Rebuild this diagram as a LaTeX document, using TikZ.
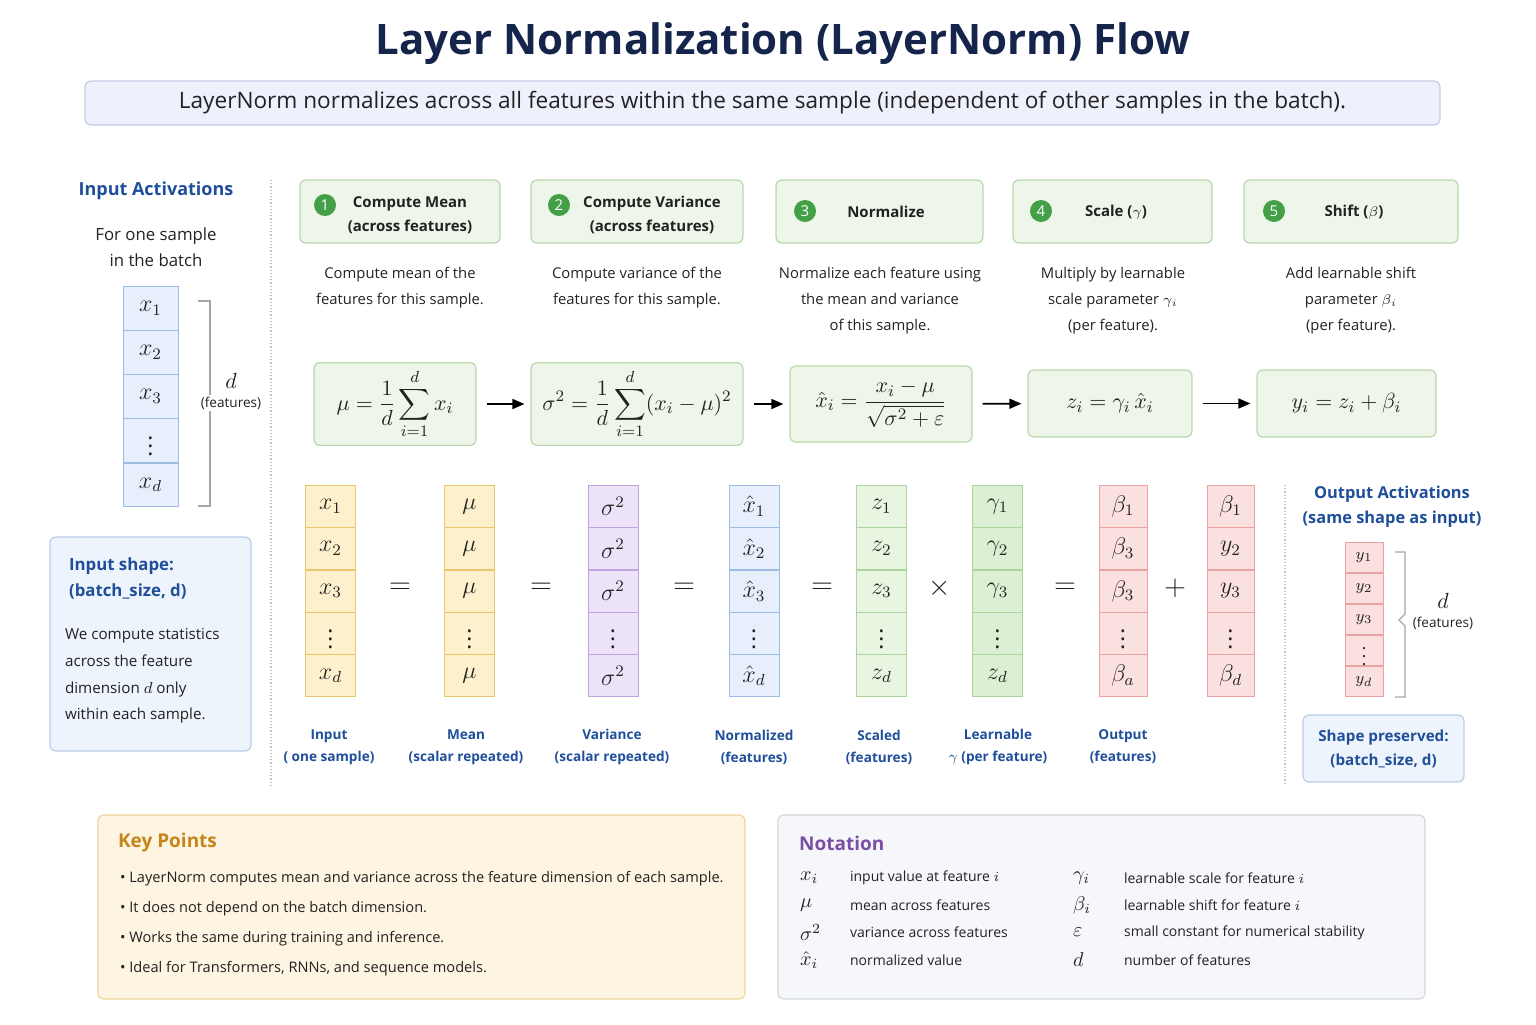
\documentclass[tikz,border=0pt]{standalone}
\usepackage{amsmath}
\usepackage{amssymb}
\usepackage[no-math]{fontspec}
\setmainfont{Open Sans}
\usepackage{xcolor}
\usepackage{tikz}
\usetikzlibrary{arrows.meta,positioning}

\definecolor{titlenavy}{HTML}{14244B}
\definecolor{headblue}{HTML}{1F4E9A}
\definecolor{txt}{HTML}{222222}
\definecolor{subfill}{HTML}{EEF0FB}
\definecolor{subline}{HTML}{C6CBEA}
\definecolor{stepfill}{HTML}{EEF6EA}
\definecolor{stepline}{HTML}{B8D7AC}
\definecolor{stepgreen}{HTML}{43A047}
\definecolor{bluefill}{HTML}{E6EFFB}
\definecolor{blueline}{HTML}{9DBCE3}
\definecolor{yelfill}{HTML}{FDF0CC}
\definecolor{yelline}{HTML}{E9C66E}
\definecolor{purfill}{HTML}{EDE3F8}
\definecolor{purline}{HTML}{BFA5E0}
\definecolor{grnfill}{HTML}{E8F5E1}
\definecolor{grnline}{HTML}{ABD39C}
\definecolor{grndark}{HTML}{DCEFD2}
\definecolor{redfill}{HTML}{FBE0E0}
\definecolor{redline}{HTML}{E9A3A3}
\definecolor{infofill}{HTML}{EEF4FC}
\definecolor{infoline}{HTML}{B9CDE9}
\definecolor{keyfill}{HTML}{FDF4E2}
\definecolor{keyline}{HTML}{F0D59B}
\definecolor{keyhead}{HTML}{C4861B}
\definecolor{notefill}{HTML}{F6F7FB}
\definecolor{noteline}{HTML}{D3D6DE}
\definecolor{notehead}{HTML}{7B4FA6}

% one column of feature cells: name, x, top y, cell height, style, entries
\newcommand{\featcol}[6]{%
  \foreach \e [count=\k] in {#6}
    \node[#5] (#1\k) at (#2, {#3+(\k-0.5)*#4}) {$\e$};
}

\begin{document}
\begin{tikzpicture}[x=0.5pt, y=-0.5pt,
    every node/.style={text=txt},
    panel/.style={rectangle, rounded corners=3pt, line width=0.6pt},
    stepbox/.style={panel, draw=stepline, fill=stepfill},
    stepnum/.style={circle, fill=stepgreen, inner sep=0pt, minimum size=11pt,
      text=white, font=\fontsize{7.5}{8}\selectfont},
    steptext/.style={align=center, font=\bfseries\fontsize{7.5}{12}\selectfont},
    desc/.style={align=center, font=\fontsize{7.4}{13}\selectfont},
    formula/.style={stepbox, font=\fontsize{11}{12}\selectfont},
    flow/.style={-{Triangle[length=6pt,width=5pt]}, line width=0.8pt, black,
      shorten <=5pt, shorten >=3pt},
    cell/.style={rectangle, inner sep=0pt, minimum width=25pt, minimum height=21pt,
      line width=0.5pt, font=\fontsize{11.5}{12}\selectfont},
    bluecell/.style={cell, fill=bluefill, draw=blueline},
    yelcell/.style={cell, fill=yelfill, draw=yelline},
    purcell/.style={cell, fill=purfill, draw=purline},
    grncell/.style={cell, fill=grnfill, draw=grnline},
    gamcell/.style={cell, fill=grndark, draw=grnline},
    redcell/.style={cell, fill=redfill, draw=redline},
    op/.style={font=\fontsize{14}{14}\selectfont},
    collab/.style={align=center, text=headblue, font=\bfseries\fontsize{6.8}{11}\selectfont},
    headlab/.style={align=center, text=headblue, font=\bfseries\fontsize{8.2}{12.5}\selectfont},
    bracket/.style={draw=gray!70, line width=0.6pt},
    sep/.style={draw=gray!45, densely dotted, line width=0.6pt}]

  \useasboundingbox (0,0) rectangle (1536,1024);

  % Title and subtitle
  \node[text=titlenavy, font=\bfseries\fontsize{21}{24}\selectfont] (title) at (783,44)
    {Layer Normalization (LayerNorm) Flow};
  \node[panel, draw=subline, fill=subfill, minimum width=677.5pt, minimum height=22pt,
    font=\fontsize{11.3}{12}\selectfont] (subtitle) at (762.5,103)
    {LayerNorm normalizes across all features within the same sample (independent of other samples in the batch).};

  % Input activations (left panel)
  \node[headlab, font=\bfseries\fontsize{9}{12.5}\selectfont] (inhead) at (156,191) {Input Activations};
  \node[align=center, font=\fontsize{8.4}{13}\selectfont] (insample) at (156,247)
    {For one sample\\in the batch};
  \featcol{in}{150.5}{286}{44.2}{bluecell, minimum width=27.5pt, minimum height=21.9pt}
    {x_1, x_2, x_3, \vdots, x_d}
  \draw[bracket] (198,301) -- (210,301) -- (210,506) -- (198,506);
  \node[font=\fontsize{11}{12}\selectfont] (ind) at (231,381) {$d$};
  \node[fill=white, inner sep=1pt, font=\fontsize{6.8}{8}\selectfont] (infeat) at (231,403) {(features)};

  \node[panel, draw=infoline, fill=infofill, minimum width=100.5pt, minimum height=107pt] (inshape) at (150.5,644) {};
  \node[anchor=west, align=left, text=headblue, font=\bfseries\fontsize{8.4}{13}\selectfont] (inshapehead)
    at (62,578) {Input shape:\\(batch\_size, d)};
  \node[anchor=west, align=left, font=\fontsize{7.6}{13.4}\selectfont] (inshapetext)
    at (58,676) {We compute statistics\\across the feature\\dimension $d$ only\\within each sample.};

  % Separators
  \draw[sep] (271,180) -- (271,785);
  \draw[sep] (1285,485) -- (1285,785);

  % Step headers
  \node[stepbox, minimum width=100pt, minimum height=31.5pt] (s1) at (400,211.5) {};
  \node[stepbox, minimum width=106pt, minimum height=31.5pt] (s2) at (637,211.5) {};
  \node[stepbox, minimum width=103.5pt, minimum height=31.5pt] (s3) at (879.5,211.5) {};
  \node[stepbox, minimum width=99.5pt, minimum height=31.5pt] (s4) at (1112.5,211.5) {};
  \node[stepbox, minimum width=107pt, minimum height=31.5pt] (s5) at (1351,211.5) {};
  \node[stepnum] (n1) at (325,205) {1};
  \node[stepnum] (n2) at (559,205) {2};
  \node[stepnum] (n3) at (805,211) {3};
  \node[stepnum] (n4) at (1041,211) {4};
  \node[stepnum] (n5) at (1274,211) {5};
  \node[steptext] (t1) at (410,215) {Compute Mean\\(across features)};
  \node[steptext] (t2) at (652,215) {Compute Variance\\(across features)};
  \node[steptext] (t3) at (886,212) {Normalize};
  \node[steptext] (t4) at (1116,212) {Scale ($\gamma$)};
  \node[steptext] (t5) at (1354,212) {Shift ($\beta$)};

  % Step descriptions
  \node[desc] (d1) at (400,288) {Compute mean of the\\features for this sample.};
  \node[desc] (d2) at (637,288) {Compute variance of the\\features for this sample.};
  \node[desc] (d3) at (880,301) {Normalize each feature using\\the mean and variance\\of this sample.};
  \node[desc] (d4) at (1113,301) {Multiply by learnable\\scale parameter $\gamma_i$\\(per feature).};
  \node[desc] (d5) at (1351,301) {Add learnable shift\\parameter $\beta_i$\\(per feature).};

  % Formulas
  \node[formula, minimum width=81pt, minimum height=38pt] (f1) at (395,404)
    {$\displaystyle \mu=\frac{1}{d}\sum_{i=1}^{d}x_i$};
  \node[formula, minimum width=106pt, minimum height=38pt] (f2) at (637,404)
    {$\displaystyle \sigma^2=\frac{1}{d}\sum_{i=1}^{d}(x_i-\mu)^2$};
  \node[formula, minimum width=91pt, minimum height=38pt] (f3) at (881,404)
    {$\displaystyle \hat{x}_i=\frac{x_i-\mu}{\sqrt{\sigma^2+\varepsilon}}$};
  \node[formula, minimum width=82pt, minimum height=33.5pt] (f4) at (1110,403.5)
    {$z_i=\gamma_i\,\hat{x}_i$};
  \node[formula, minimum width=89.5pt, minimum height=33.5pt] (f5) at (1346.5,403.5)
    {$y_i=z_i+\beta_i$};
  \draw[flow] (f1) -- (f2);
  \draw[flow] (f2) -- (f3);
  \draw[flow] (f3) -- (f4);
  \draw[flow] (f4) -- (f5);

  % Feature columns
  \featcol{xin}{330.5}{485}{42.4}{yelcell}{x_1, x_2, x_3, \vdots, x_d}
  \featcol{mu}{469.5}{485}{42.4}{yelcell}{\mu, \mu, \mu, \vdots, \mu}
  \featcol{var}{613}{485}{42.4}{purcell}{\sigma^2, \sigma^2, \sigma^2, \vdots, \sigma^2}
  \featcol{xh}{754}{485}{42.4}{bluecell}{\hat{x}_1, \hat{x}_2, \hat{x}_3, \vdots, \hat{x}_d}
  \featcol{z}{881.5}{485}{42.4}{grncell}{z_1, z_2, z_3, \vdots, z_d}
  \featcol{gam}{997.5}{485}{42.4}{gamcell}{\gamma_1, \gamma_2, \gamma_3, \vdots, z_d}
  \featcol{out}{1123}{485}{42.4}{redcell, minimum width=24pt}{\beta_1, \beta_3, \beta_3, \vdots, \beta_a}
  \featcol{bet}{1230.5}{485}{42.4}{redcell, minimum width=23.5pt}{\beta_1, y_2, y_3, \vdots, \beta_d}

  % Operators between columns
  \node[op] (o1) at (400,588) {$=$};
  \node[op] (o2) at (541,588) {$=$};
  \node[op] (o3) at (684,588) {$=$};
  \node[op] (o4) at (822,588) {$=$};
  \node[op] (o5) at (940,588) {$\times$};
  \node[op] (o6) at (1065,588) {$=$};
  \node[op] (o7) at (1175,588) {$+$};

  % Column labels
  \node[collab] (l1) at (329,747) {Input\\( one sample)};
  \node[collab] (l2) at (466,747) {Mean\\(scalar repeated)};
  \node[collab] (l3) at (612,747) {Variance\\(scalar repeated)};
  \node[collab] (l4) at (754,747) {Normalized\\(features)};
  \node[collab] (l5) at (879,747) {Scaled\\(features)};
  \node[collab] (l6) at (998,747) {Learnable\\$\gamma$ (per feature)};
  \node[collab] (l7) at (1123,747) {Output\\(features)};

  % Output activations (right panel)
  \node[headlab] (outhead) at (1392,507) {Output Activations\\(same shape as input)};
  \featcol{y}{1364}{542}{31}{redcell, minimum width=19pt, minimum height=15.3pt,
    font=\fontsize{8.5}{9}\selectfont}{y_1, y_2, y_3, \vdots, y_d}
  \draw[bracket] (1395,552) -- (1405,552) -- (1405,614) -- (1399,620) -- (1405,626)
    -- (1405,697) -- (1395,697);
  \node[font=\fontsize{11}{12}\selectfont] (outd) at (1443,601) {$d$};
  \node[font=\fontsize{6.8}{8}\selectfont] (outfeat) at (1443,623) {(features)};
  \node[panel, draw=infoline, fill=infofill, minimum width=80.5pt, minimum height=33.5pt,
    align=center, text=headblue, font=\bfseries\fontsize{7.6}{12}\selectfont] (shape)
    at (1383.5,748.5) {Shape preserved:\\(batch\_size, d)};

  % Key points
  \node[panel, draw=keyline, fill=keyfill, minimum width=323.5pt, minimum height=92pt] (keys) at (421.5,907) {};
  \node[anchor=west, text=keyhead, font=\bfseries\fontsize{9.5}{11}\selectfont] (keyhead) at (111,843) {Key Points};
  \node[anchor=west, align=left, font=\fontsize{7.3}{14.9}\selectfont] (keytext) at (113,923.5)
    {\textbullet\ LayerNorm computes mean and variance across the feature dimension of each sample.\\
     \textbullet\ It does not depend on the batch dimension.\\
     \textbullet\ Works the same during training and inference.\\
     \textbullet\ Ideal for Transformers, RNNs, and sequence models.};

  % Notation
  \node[panel, draw=noteline, fill=notefill, minimum width=323.5pt, minimum height=92pt] (notes) at (1101.5,907) {};
  \node[anchor=west, text=notehead, font=\bfseries\fontsize{9.5}{11}\selectfont] (notehead) at (792,843) {Notation};
  \foreach \s/\t [count=\k] in {x_i/{input value at feature $i$}, \mu/{mean across features},
      \sigma^2/{variance across features}, \hat{x}_i/{normalized value}}
    {
    \node[anchor=west, font=\fontsize{10}{11}\selectfont] (ns\k) at (793,{878+(\k-1)*27.3}) {$\s$};
    \node[anchor=west, font=\fontsize{7}{8}\selectfont] (nt\k) at (843,{878+(\k-1)*27.3}) {\t};
    }
  \foreach \s/\t [count=\k] in {\gamma_i/{learnable scale for feature $i$}, \beta_i/{learnable shift for feature $i$},
      \varepsilon/{small constant for numerical stability}, d/{number of features}}
    {
    \node[anchor=west, font=\fontsize{10}{11}\selectfont] (ms\k) at (1066,{878+(\k-1)*27.3}) {$\s$};
    \node[anchor=west, font=\fontsize{7}{8}\selectfont] (mt\k) at (1117,{878+(\k-1)*27.3}) {\t};
    }
\end{tikzpicture}
\end{document}
